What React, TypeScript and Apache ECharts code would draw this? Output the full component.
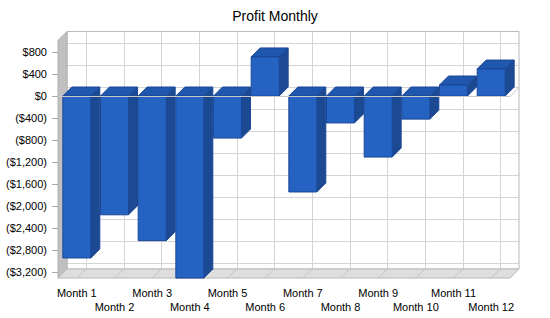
import React, { useEffect, useRef } from "react";
import * as echarts from "echarts";

// Monthly profit figures (USD)
const MONTHS = [
  "Month 1", "Month 2", "Month 3", "Month 4", "Month 5", "Month 6",
  "Month 7", "Month 8", "Month 9", "Month 10", "Month 11", "Month 12",
];
const PROFIT = [-2945, -2160, -2630, -3310, -765, 710, -1745, -490, -1110, -420, 200, 490];

// Value axis labels run from -3200 to 800 every 400
const Y_MIN = -3200;
const Y_MAX = 800;
const Y_STEP = 400;
// The 3D box extends a little past the labelled range
const BOX_TOP = 1010;
const BOX_BOTTOM = -3310;

const DEPTH = 9; // 3D offset in px (right and up)
const BAR_RATIO = 0.743;

const FRONT = "#2563C2";
const TOP = "#2057AE";
const SIDE = "#1C4A92";
const EDGE = "#1A4796";
const FONT = "'Liberation Sans', Arial, sans-serif";

const fmtMoney = (v: number) => {
  const s = "$" + Math.abs(v).toLocaleString("en-US");
  return v < 0 ? "(" + s + ")" : s;
};

export default function App() {
  const ref = useRef<HTMLDivElement>(null);

  useEffect(() => {
    if (!ref.current) return;
    const chart = echarts.init(ref.current, null, { renderer: "svg" });

    const gridTicks: number[] = [];
    for (let v = Y_MIN; v <= Y_MAX; v += Y_STEP) gridTicks.push(v);

    const frameRender = (params: any, api: any) => {
      const catW = api.size([1, 0])[0];
      const x0 = api.coord([0, 0])[0] - catW / 2;
      const x1 = api.coord([MONTHS.length - 1, 0])[0] + catW / 2;
      const yT = api.coord([0, BOX_TOP])[1];
      const yB = api.coord([0, BOX_BOTTOM])[1];
      const d = DEPTH;
      const line = "#D4D4D4";
      const border = "#B8B8B8";
      const children: any[] = [];
      // back wall
      children.push({
        type: "rect",
        shape: { x: x0 + d, y: yT - d, width: x1 - x0, height: yB - yT },
        style: { fill: "#FFFFFF", stroke: "none" },
      });
      // horizontal gridlines on the back wall
      gridTicks.forEach((v) => {
        const y = Math.round(api.coord([0, v])[1] - d) + 0.5;
        children.push({
          type: "line",
          shape: { x1: x0 + d, y1: y, x2: x1 + d, y2: y },
          style: { stroke: line, lineWidth: 1 },
        });
      });
      // vertical gridlines at category centres
      MONTHS.forEach((_, i) => {
        const cx = Math.round(api.coord([i, 0])[0] + d) + 0.5;
        children.push({
          type: "line",
          shape: { x1: cx, y1: yT - d, x2: cx, y2: yB - d },
          style: { stroke: line, lineWidth: 1 },
        });
      });
      // back wall border
      children.push({
        type: "rect",
        shape: { x: x0 + d, y: yT - d, width: x1 - x0, height: yB - yT },
        style: { fill: "none", stroke: border, lineWidth: 1 },
      });
      // left wall
      children.push({
        type: "polygon",
        shape: { points: [[x0, yT], [x0 + d, yT - d], [x0 + d, yB - d], [x0, yB]] },
        style: { fill: "#C0C0C0", stroke: "#B0B0B0", lineWidth: 1 },
      });
      // floor
      children.push({
        type: "polygon",
        shape: { points: [[x0, yB], [x0 + d, yB - d], [x1 + d, yB - d], [x1, yB]] },
        style: { fill: "#DEDEDE", stroke: border, lineWidth: 1 },
      });
      // diagonal gridlines across the floor
      MONTHS.forEach((_, i) => {
        const cx = api.coord([i, 0])[0];
        children.push({
          type: "line",
          shape: { x1: cx, y1: yB, x2: cx + d, y2: yB - d },
          style: { stroke: "#C4C4C4", lineWidth: 1 },
        });
      });
      return { type: "group", children };
    };

    const barRender = (params: any, api: any) => {
      const i = api.value(0);
      const v = api.value(1);
      const [cx, yv] = api.coord([i, v]);
      const y0 = api.coord([i, 0])[1];
      const w = api.size([1, 0])[0] * BAR_RATIO;
      const xl = cx - w / 2;
      const xr = cx + w / 2;
      const yTop = Math.min(yv, y0);
      const yBot = Math.max(yv, y0);
      const d = DEPTH;
      return {
        type: "group",
        children: [
          {
            type: "polygon",
            shape: { points: [[xr, yTop], [xr + d, yTop - d], [xr + d, yBot - d], [xr, yBot]] },
            style: { fill: SIDE, stroke: EDGE, lineWidth: 1 },
          },
          {
            type: "polygon",
            shape: { points: [[xl, yTop], [xl + d, yTop - d], [xr + d, yTop - d], [xr, yTop]] },
            style: { fill: TOP, stroke: EDGE, lineWidth: 1 },
          },
          {
            type: "rect",
            shape: { x: xl, y: yTop, width: w, height: yBot - yTop },
            style: { fill: FRONT, stroke: EDGE, lineWidth: 1 },
          },
        ],
      };
    };

    const zeroRender = (params: any, api: any) => {
      const catW = api.size([1, 0])[0];
      const x0 = api.coord([0, 0])[0] - catW / 2;
      const x1 = api.coord([MONTHS.length - 1, 0])[0] + catW / 2;
      const y0 = Math.round(api.coord([0, 0])[1]) + 0.5;
      return {
        type: "group",
        children: [
          {
            type: "polyline",
            shape: { points: [[x0, y0], [x1, y0], [x1 + DEPTH, y0 - DEPTH]] },
            style: { stroke: "#C8C8C8", fill: "none", lineWidth: 1 },
          },
        ],
      };
    };

    chart.setOption({
      animation: false,
      backgroundColor: "#FFFFFF",
      title: {
        text: "Profit Monthly",
        left: "center",
        top: 4,
        textStyle: { fontFamily: FONT, fontSize: 14, fontWeight: "normal", color: "#000" },
      },
      grid: { left: 58, right: 40, top: 52, bottom: 46 },
      xAxis: {
        type: "category",
        data: MONTHS,
        offset: 6,
        axisLine: { show: false },
        axisTick: { show: true, alignWithLabel: true, length: 6, lineStyle: { color: "#A8A8A8" } },
        axisLabel: {
          interval: 0,
          margin: 8,
          fontFamily: FONT,
          fontSize: 11,
          color: "#000",
          lineHeight: 14,
          formatter: (value: string, index: number) => (index % 2 === 0 ? value : "\n" + value),
        },
        splitLine: { show: false },
      },
      yAxis: {
        type: "value",
        min: Y_MIN,
        max: Y_MAX,
        interval: Y_STEP,
        axisLine: { show: false },
        axisTick: { show: true, length: 6, lineStyle: { color: "#A8A8A8" } },
        axisLabel: { margin: 11, fontFamily: FONT, fontSize: 11, color: "#000", formatter: fmtMoney },
        splitLine: { show: false },
      },
      series: [
        { type: "custom", z: 1, silent: true, data: [[0, 0]], renderItem: frameRender },
        {
          type: "custom",
          z: 2,
          name: "Profit",
          data: PROFIT.map((v, i) => [i, v]),
          encode: { x: 0, y: 1 },
          renderItem: barRender,
        },
        { type: "custom", z: 3, silent: true, data: [[0, 0]], renderItem: zeroRender },
      ],
    });

    return () => chart.dispose();
  }, []);

  return (
    <div
      ref={ref}
      style={{ position: "fixed", left: 0, top: 0, width: 550, height: 318 }}
    />
  );
}
